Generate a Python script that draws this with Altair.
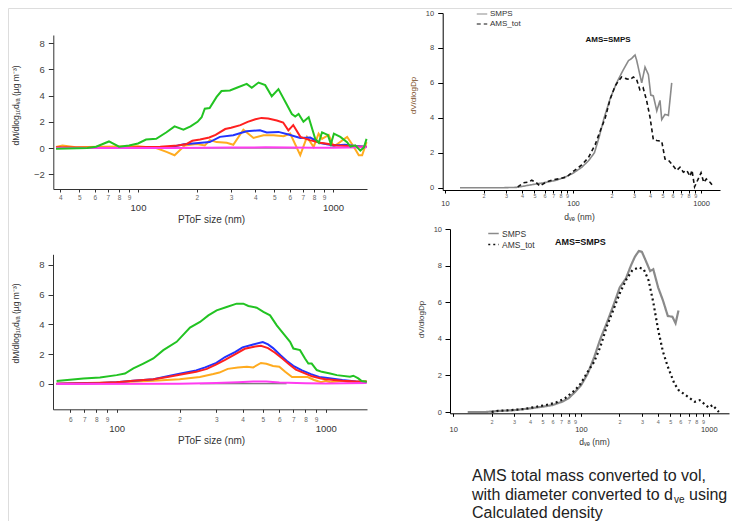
import altair as alt
import pandas as pd

W, H = 724, 513
OX, OY = 8, 8
def vx(p): return p - OX
def vy(p): return p - OY

FONT = "Liberation Sans"

# ---------------- data: top-left (PToF, raw) ----------------
tl_green_x = [38, 55, 61, 71, 80, 90, 100, 110, 124, 140, 154, 171, 186, 202, 212, 220, 233, 253, 268, 296,
              321, 361, 383, 415, 449, 485, 525, 580, 615, 640, 666, 705, 750, 810, 845, 878, 940, 975, 1010, 1090,
              1180, 1228, 1300, 1380, 1440, 1485]
tl_green_y = [-0.05, 0.0, 0.1, 0.5, 0.1, 0.2, 0.35, 0.65, 0.7, 1.2, 1.65, 1.4, 1.65, 2.0, 2.35, 3.0, 3.05, 3.9, 4.35, 4.4,
              4.6, 4.9, 4.6, 5.0, 4.8, 3.95, 4.5, 3.3, 2.6, 2.4, 2.6, 2.0, 2.35, 0.7, 0.4, 1.2, 1.0, 0.3, 1.1, 0.85,
              0.45, 0.1, 0.2, -0.2, 0.05, 0.7]
tl_red_x = [38, 60, 80, 100, 130, 160, 176, 190, 208, 232, 250, 280, 300, 335, 365, 400, 430, 465, 515, 555,
            590, 625, 680, 760, 860, 950, 1050, 1200, 1350, 1485]
tl_red_y = [0.05, 0.02, 0.0, 0.05, 0.1, 0.2, 0.28, 0.55, 0.65, 0.8, 1.0, 1.45, 1.55, 1.75, 2.0, 2.2, 2.3, 2.25, 2.1, 1.95,
            1.35, 1.75, 0.85, 0.6, 0.4, 0.3, 0.2, 0.15, 0.1, 0.1]
tl_blue_x = [38, 100, 150, 172, 205, 233, 263, 308, 360, 422, 457, 525, 591, 679, 764, 860, 1006, 1150, 1300, 1485]
tl_blue_y = [0.0, 0.0, 0.1, 0.28, 0.38, 0.45, 0.85, 0.97, 1.28, 1.35, 1.18, 1.23, 1.03, 0.77, 0.8, 0.38, 0.2, 0.25, 0.15, 0.1]
tl_orange_x = [38, 41, 48, 63.5, 100, 124, 140, 154, 174, 200, 220, 234, 253, 285, 308, 347, 391, 440, 495, 558,
               603, 679, 735, 795, 843, 878, 950, 1006, 1181, 1277, 1355, 1410, 1485]
tl_orange_y = [0.08, 0.2, 0.05, 0.1, 0.13, 0.0, -0.3, -0.55, 0.2, 0.3, 0.2, 0.6, 0.45, 0.4, 0.25, 1.4, 0.77, 0.97, 0.97, 0.9,
               1.1, -0.55, 0.85, 0.08, 1.1, 0.7, 1.0, 0.1, 0.85, 0.1, -0.55, -0.55, 0.45]
tl_magenta_x = [38, 150, 300, 450, 600, 800, 1000, 1485]
tl_magenta_y = [0.0, 0.0, 0.03, 0.05, 0.03, 0.02, 0.02, 0.05]
tl_dark_x = [175, 650]
tl_dark_y = [0.0, 0.0]

# ---------------- data: bottom-left (PToF, smoothed) ----------------
bl_green_x = [51.6, 69.3, 83.2, 100, 109.6, 120.2, 134.2, 149.8, 167.2, 193.6, 224.3, 250.5, 274.6, 300.9, 335.9, 374.9,
              403.6, 426.6, 467.7, 503.4, 541.8, 583.2, 627.6, 675.5, 700.3, 753.8, 796, 826, 857, 906, 958, 1050,
              1130, 1307, 1356, 1432, 1486, 1570]
bl_green_y = [0.18, 0.36, 0.42, 0.58, 0.69, 1.03, 1.36, 1.7, 2.26, 2.82, 3.78, 4.16, 4.6, 4.94, 5.16, 5.39,
              5.39, 5.23, 5.12, 4.83, 4.6, 3.93, 3.37, 2.82, 2.37, 2.26, 1.7, 1.36, 1.36, 0.92, 0.8, 0.69,
              0.58, 0.47, 0.54, 0.36, 0.18, 0.13]
bl_blue_x = [51.6, 83, 100, 120, 150, 175, 200, 240, 265, 300, 330, 370, 400, 450, 500, 530, 560, 610, 650, 700,
             770, 850, 930, 1000, 1200, 1400, 1570]
bl_blue_y = [0.0, 0.05, 0.1, 0.2, 0.3, 0.5, 0.67, 0.9, 1.1, 1.4, 1.8, 2.15, 2.45, 2.64, 2.8, 2.65, 2.4, 1.9, 1.55, 1.2,
             0.9, 0.65, 0.45, 0.4, 0.25, 0.15, 0.1]
bl_red_x = [51.6, 83, 100, 120, 150, 175, 200, 240, 270, 300, 330, 370, 410, 460, 490, 530, 570, 620, 670, 720,
            780, 860, 950, 1000, 1200, 1400, 1570]
bl_red_y = [0.0, 0.05, 0.1, 0.2, 0.3, 0.45, 0.6, 0.8, 1.0, 1.3, 1.6, 2.0, 2.35, 2.5, 2.55, 2.4, 2.1, 1.7, 1.3, 0.95,
            0.75, 0.5, 0.35, 0.3, 0.2, 0.15, 0.15]
bl_orange_x = [51.6, 100, 150, 200, 250, 290, 310, 340, 380, 420, 450, 490, 520, 560, 600, 640, 690, 750, 820, 880,
               950, 1000, 1050, 1200, 1300, 1570]
bl_orange_y = [0.0, 0.1, 0.2, 0.3, 0.45, 0.65, 0.75, 1.0, 1.1, 1.15, 1.1, 1.4, 1.35, 1.2, 1.15, 0.8, 0.45, 0.45, 0.45, 0.25,
               0.1, 0.2, 0.1, 0.2, 0.1, 0.15]
bl_magenta_x = [51.6, 200, 300, 380, 450, 520, 600, 800, 1000, 1570]
bl_magenta_y = [-0.02, 0.0, 0.05, 0.1, 0.15, 0.15, 0.08, 0.03, 0.02, 0.05]
bl_dark_x = [250, 650]
bl_dark_y = [0.0, 0.0]

# ---------------- data: top-right (SMPS vs AMS_tot) ----------------
tr_smps_x = [13.1, 20, 28, 36.3, 49, 58.6, 74.5, 89.3, 100.6, 117, 132, 147, 160, 175, 195, 219, 247, 271, 287, 305,
             314, 344, 365, 388, 405, 424, 451, 478, 493, 523, 556, 590]
tr_smps_y = [0.0, 0.0, 0.0, 0.02, 0.19, 0.28, 0.43, 0.65, 0.84, 1.17, 1.54, 2.0, 2.9, 4.0, 5.1, 6.0, 6.75, 7.27, 7.4, 7.6,
             7.3, 6.0, 6.9, 6.47, 5.3, 5.26, 4.4, 5.0, 3.9, 4.2, 4.14, 6.0]
tr_ams_x = [37, 41, 45, 47.6, 52, 55, 62, 70, 79, 89, 101, 117, 132, 149, 163, 178, 195, 213, 226, 240,
            263, 279, 296, 314, 333, 353, 376, 399, 424, 451, 493, 523, 556, 590, 646, 685, 728, 773, 820, 850,
            890, 1000, 1050, 1100, 1180, 1250]
tr_ams_y = [0.05, 0.28, 0.33, 0.43, 0.28, 0.1, 0.33, 0.46, 0.52, 0.61, 0.95, 1.3, 1.73, 2.47, 3.25, 3.96, 5.07, 5.82, 6.1, 6.34,
            6.23, 6.19, 6.34, 6.19, 5.6, 5.72, 4.98, 4.05, 2.75, 2.7, 2.66, 1.64, 1.58, 1.36, 0.99, 1.17, 0.89, 0.99, 0.65, 1.0,
            0.05, 0.85, 0.3, 0.5, 0.3, 0.05]

# ---------------- data: bottom-right (calculated density) ----------------
br_smps_x = [13, 18, 22, 30, 40, 50, 60, 71, 80, 90, 100, 113, 127, 142, 160, 180, 201, 225, 246, 265,
             284, 300, 320, 348, 368, 402, 438, 478, 520, 550, 580]
br_smps_y = [0, 0, 0.05, 0.1, 0.2, 0.29, 0.38, 0.56, 0.75, 1.1, 1.45, 2.1, 3.0, 4.0, 4.9, 5.85, 6.8, 7.3, 8.0, 8.5,
             8.8, 8.75, 8.3, 7.7, 7.8, 6.8, 6.1, 5.25, 5.2, 4.85, 5.55]
br_ams_x = [20, 22.4, 28, 35.6, 45, 53, 63, 75, 90, 100, 113, 127, 142, 159, 179, 201, 225, 253, 284, 310,
            338, 368, 402, 438, 478, 537, 580, 636, 713, 778, 850, 930, 1000, 1070, 1200]
br_ams_y = [0, 0.07, 0.1, 0.16, 0.29, 0.38, 0.5, 0.75, 1.2, 1.57, 2.2, 2.75, 3.57, 4.66, 5.57, 6.48, 7.21, 7.76, 7.9, 7.8,
            7.2, 6.0, 4.48, 3.3, 2.48, 1.57, 1.2, 1.0, 0.75, 0.56, 0.65, 0.42, 0.24, 0.38, 0.0]

left_names = ["dark", "orange", "blue", "red", "magenta", "green"]
left_colors = ["#555555", "#ffab1f", "#2233ff", "#ff2020", "#ff3cf0", "#22c322"]
left_widths = [1.0, 2.0, 2.0, 2.0, 2.0, 2.0]
right_names = ["SMPS", "AMS_tot"]

tl_ticks = [40, 50, 60, 70, 80, 90, 100, 200, 300, 400, 500, 600, 700, 800, 900, 1000]
bl_ticks = [60, 70, 80, 90, 100, 200, 300, 400, 500, 600, 700, 800, 900, 1000]
r_ticks = [10, 20, 30, 40, 50, 60, 70, 80, 90, 100, 200, 300, 400, 500, 600, 700, 800, 900, 1000]
left_yticks = [-2, 0, 2, 4, 6, 8]
right_yticks = [0, 2, 4, 6, 8, 10]


def frame(pairs):
    rows = []
    for name, xs, ys in pairs:
        rows += [{"series": name, "x": a, "y": b} for a, b in zip(xs, ys)]
    return pd.DataFrame(rows)


def log_xaxis(vals, majors, axis_page_y, minor_fs, major_fs, minor_pad, major_pad,
              title, title_page, title_fs, color):
    test = " || ".join(f"datum.value == {m}" for m in majors)
    return alt.Axis(
        orient="bottom", offset=vy(axis_page_y) - H, values=vals, grid=False,
        labelExpr=f"({test}) ? toString(datum.value) : slice(toString(datum.value), 0, 1)",
        labelFontSize={"condition": {"test": test, "value": major_fs}, "value": minor_fs},
        labelPadding={"condition": {"test": test, "value": major_pad}, "value": minor_pad},
        labelColor={"condition": {"test": test, "value": "#333333"}, "value": "#666666"},
        labelOverlap=False, labelFlush=False, labelFont=FONT,
        tickSize=3, tickColor=color, domainColor=color, tickWidth=1, domainWidth=1,
        title=title, titleX=vx(title_page[0]), titleY=title_page[1] - axis_page_y,
        titleFontSize=title_fs, titleFontWeight="normal", titleColor="#333333",
        titleBaseline="middle", titleFont=FONT,
    )


def lin_yaxis(vals, axis_page_x, fs, pad, title, title_page, title_fs, title_color, color):
    return alt.Axis(
        orient="left", offset=-vx(axis_page_x), values=vals, grid=False,
        labelFontSize=fs, labelPadding=pad, labelColor="#444444", labelFont=FONT,
        tickSize=5, tickColor=color, domainColor=color, domainWidth=1,
        title=title, titleX=title_page[0] - axis_page_x, titleY=vy(title_page[1]),
        titleAngle=270, titleBaseline="middle", titleFontSize=title_fs,
        titleFontWeight="normal", titleColor=title_color, titleFont=FONT,
    )


YT_LEFT = "dM/dlog\u2081\u2080d\u1d65\u2090 (\u00b5g m\u207b\u00b3)"
XT_RIGHT = "d\u1d65\u2091 (nm)"


def left_panel(df, xdom, xrng, ydom, yrng, ticks, axis_y, minor_pad, major_pad, xtitle_pos, axis_x, ytitle_pos):
    return alt.Chart(df).mark_line().encode(
        x=alt.X("x:Q", scale=alt.Scale(type="log", domain=xdom, range=xrng, nice=False),
                axis=log_xaxis(ticks, [100, 1000], axis_y, 6.5, 9.5, minor_pad, major_pad,
                               "PToF size (nm)", xtitle_pos, 10, "#333333")),
        y=alt.Y("y:Q", scale=alt.Scale(domain=ydom, range=yrng, nice=False, zero=False),
                axis=lin_yaxis(left_yticks, axis_x, 9.5, 4, YT_LEFT, ytitle_pos, 8.5, "#333333", "#333333")),
        color=alt.Color("series:N", scale=alt.Scale(domain=left_names, range=left_colors), legend=None),
        strokeWidth=alt.StrokeWidth("series:N", scale=alt.Scale(type="ordinal", domain=left_names, range=left_widths),
                                    legend=None),
    )


# ---------------- top-left ----------------
tl_df = frame([
    ("dark", tl_dark_x, tl_dark_y), ("orange", tl_orange_x, tl_orange_y),
    ("blue", tl_blue_x, tl_blue_y), ("red", tl_red_x, tl_red_y),
    ("magenta", tl_magenta_x, tl_magenta_y), ("green", tl_green_x, tl_green_y),
])
tl = left_panel(tl_df, [36.8, 1493], [vx(53.3), vx(367)], [-3.13, 8.63], [vy(189), vy(35)],
                tl_ticks, 189, 2.2, 10.6, (211, 219), 53.3, (15, 105))

# ---------------- bottom-left ----------------
bl_df = frame([
    ("dark", bl_dark_x, bl_dark_y), ("orange", bl_orange_x, bl_orange_y),
    ("blue", bl_blue_x, bl_blue_y), ("red", bl_red_x, bl_red_y),
    ("magenta", bl_magenta_x, bl_magenta_y), ("green", bl_green_x, bl_green_y),
])
bl = left_panel(bl_df, [49.6, 1576], [vx(53), vx(367)], [-1.72, 8.71], [vy(409.3), vy(254.3)],
                bl_ticks, 409.3, 3.9, 11.3, (211, 440), 53, (15, 323))


def right_legend(lx, ly, fs, sw):
    return alt.Legend(orient="none", legendX=lx, legendY=ly, title=None, labelFontSize=fs,
                      labelFont=FONT, labelColor="#333333", symbolType="stroke", symbolSize=110,
                      symbolStrokeWidth=sw, rowPadding=0, padding=0, labelOffset=2, offset=0)


# ---------------- top-right ----------------
tr_df = frame([("SMPS", tr_smps_x, tr_smps_y), ("AMS_tot", tr_ams_x, tr_ams_y)])
tr_leg = right_legend(vx(476), 0, 8, 1.2)
tr_line = alt.Chart(tr_df).mark_line(strokeWidth=1.6).encode(
    x=alt.X("x:Q", scale=alt.Scale(type="log", domain=[9.6, 1406], range=[vx(442.7), vx(720)], nice=False),
            axis=log_xaxis(r_ticks, [10, 100, 1000], 190, 5.5, 7.5, 0.8, 6.8,
                           XT_RIGHT, (579, 216), 8.5, "#000000")),
    y=alt.Y("y:Q", scale=alt.Scale(domain=[-0.13, 10], range=[vy(190), vy(13)], nice=False, zero=False),
            axis=lin_yaxis(right_yticks, 442.7, 7.5, 4, "dV/dlogDp", (413, 95), 8, "#7a4a22", "#000000")),
    color=alt.Color("series:N", scale=alt.Scale(domain=right_names, range=["#8a8a8a", "#111111"]), legend=tr_leg),
    strokeDash=alt.StrokeDash("series:N", scale=alt.Scale(domain=right_names, range=[[1, 0], [4, 3]]), legend=tr_leg),
)
tr_note = alt.Chart(alt.Data(values=[{}])).mark_text(
    text="AMS=SMPS", font=FONT, fontSize=8, fontWeight="bold", color="#111111", align="center", baseline="middle"
).encode(x=alt.value(vx(608)), y=alt.value(vy(40)))
tr = alt.layer(tr_line, tr_note)

# ---------------- bottom-right ----------------
br_df = frame([("SMPS", br_smps_x, br_smps_y), ("AMS_tot", br_ams_x, br_ams_y)])
br_leg = right_legend(vx(487), vy(227), 8.5, 1.6)
br_line = alt.Chart(br_df).mark_line(strokeCap="butt", strokeWidth=2.2).encode(
    x=alt.X("x:Q", scale=alt.Scale(type="log", domain=[9.45, 1440], range=[vx(450), vx(729)], nice=False),
            axis=log_xaxis(r_ticks, [10, 100, 1000], 413.3, 5.5, 7.5, 3, 8.8,
                           XT_RIGHT, (594, 441.7), 8.5, "#000000")),
    y=alt.Y("y:Q", scale=alt.Scale(domain=[-0.07, 10], range=[vy(413.3), vy(229)], nice=False, zero=False),
            axis=lin_yaxis(right_yticks, 450, 7.5, 3.5, "dV/dlogDp", (421.7, 319), 8, "#333333", "#000000")),
    color=alt.Color("series:N", scale=alt.Scale(domain=right_names, range=["#8a8a8a", "#111111"]), legend=br_leg),
    strokeDash=alt.StrokeDash("series:N", scale=alt.Scale(domain=right_names, range=[[1, 0], [2, 3]]), legend=br_leg),
)
br_note = alt.Chart(alt.Data(values=[{}])).mark_text(
    text="AMS=SMPS", font=FONT, fontSize=9, fontWeight="bold", color="#111111", align="left", baseline="middle"
).encode(x=alt.value(vx(555)), y=alt.value(vy(242)))
br = alt.layer(br_line, br_note)

# ---------------- caption ----------------
def cap(txt, px, py, fs=16):
    return alt.Chart(alt.Data(values=[{}])).mark_text(
        text=txt, font=FONT, fontSize=fs, color="#222222", align="left", baseline="alphabetic"
    ).encode(x=alt.value(vx(px)), y=alt.value(vy(py)))

caption = alt.layer(
    cap("AMS total mass converted to vol,", 472, 481),
    cap("with diameter converted to d", 472, 499.5),
    cap("ve", 674, 503, 10),
    cap("using", 689, 499.5),
    cap("Calculated density", 472, 518),
)

chart = alt.layer(tl, bl, tr, br, caption).resolve_scale(
    x="independent", y="independent", color="independent",
    strokeDash="independent", strokeWidth="independent",
).resolve_axis(x="independent", y="independent").resolve_legend(
    color="independent", strokeDash="independent"
).properties(
    width=W, height=H, padding=0, autosize=alt.AutoSizeParams(type="none")
).configure_view(stroke=None).configure(font=FONT)

chart.save("out.html", embed_options={"renderer": "svg", "actions": False})
